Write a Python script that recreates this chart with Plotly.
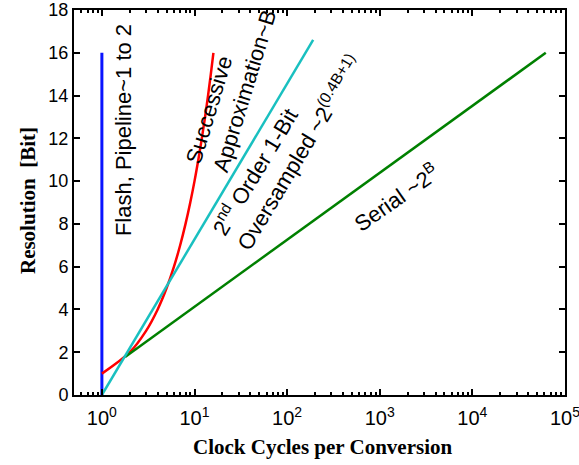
import plotly.graph_objects as go
import math

# Data (clock cycles per conversion vs resolution in bits)
flash_cycles = [1, 1]
flash_bits = [0, 16]

sar_cycles = [1, 2, 3, 4, 5, 6, 7, 8, 9, 10, 11, 12, 13, 14, 15, 16]
sar_bits = [1, 2, 3, 4, 5, 6, 7, 8, 9, 10, 11, 12, 13, 14, 15, 16]

osr_cycles = [1, 10, 100, 191]
osr_bits = [0, 7.3, 14.6, 16.6]

serial_cycles = [1.78, 10, 100, 1000, 10000, 62000]
serial_bits = [1.78, 4.13, 7.26, 10.39, 13.52, 16.0]

x_tick_vals = [1, 10, 100, 1000, 10000, 100000]
x_tick_text = ["10<sup>0</sup>", "10<sup>1</sup>", "10<sup>2</sup>",
               "10<sup>3</sup>", "10<sup>4</sup>", "10<sup>5</sup>"]
y_tick_vals = [0, 2, 4, 6, 8, 10, 12, 14, 16, 18]

minor_vals = [m * 10 ** d for d in range(-1, 5) for m in range(2, 10)]

fig = go.Figure()
fig.add_trace(go.Scatter(x=flash_cycles, y=flash_bits, mode="lines",
                         line=dict(color="#0a14ff", width=3), showlegend=False))
fig.add_trace(go.Scatter(x=sar_cycles, y=sar_bits, mode="lines", line_shape="spline",
                         line=dict(color="#ff0000", width=2.5), showlegend=False))
fig.add_trace(go.Scatter(x=serial_cycles, y=serial_bits, mode="lines",
                         line=dict(color="#008000", width=2.5), showlegend=False))
fig.add_trace(go.Scatter(x=osr_cycles, y=osr_bits, mode="lines",
                         line=dict(color="#19c0c0", width=2.5), showlegend=False))

tick_font = dict(family="Liberation Sans, Arial", size=18, color="black")
xtick_font = dict(family="Liberation Sans, Arial", size=20, color="black")
ann_font = dict(family="Liberation Sans, Arial", size=22, color="black")
title_font = dict(family="Liberation Serif, Times New Roman", size=21, color="black")

annotations = [
    dict(x=0.24, y=12.39, text="Flash, Pipeline~1 to 2", textangle=-90),
    dict(x=1.40, y=14.38, text="Successive<br>Approximation~B", textangle=-73, align="left"),
    dict(x=2.00, y=11.69, text="2<sup>nd</sup> Order 1-Bit<br>Oversampled ~2<sup>(0.4B+1)</sup>",
         textangle=-59, align="left"),
    dict(x=3.173, y=9.26, text="Serial ~2<sup>B</sup>", textangle=-35),
]
for a in annotations:
    a.update(xref="x", yref="y", showarrow=False, font=ann_font)

annotations.append(dict(xref="paper", yref="paper", x=0.507, y=-0.135, showarrow=False,
                        text="<b>Clock Cycles per Conversion</b>", font=title_font,
                        xanchor="center", yanchor="middle"))
annotations.append(dict(xref="paper", yref="paper", x=-0.094, y=0.506, showarrow=False,
                        text="<b>Resolution  [Bit]</b>", font=title_font, textangle=-90,
                        xanchor="center", yanchor="middle"))

fig.update_layout(
    width=579, height=465,
    margin=dict(l=74, r=14, t=10, b=70),
    paper_bgcolor="white", plot_bgcolor="white",
    annotations=annotations,
    xaxis=dict(
        type="log", range=[math.log10(0.5), 5], automargin=False,
        tickvals=x_tick_vals, ticktext=x_tick_text, ticklabeloverflow="allow",
        ticklabelstandoff=4,
        ticks="inside", ticklen=6, tickwidth=2, tickcolor="black",
        showline=True, linecolor="black", linewidth=2, mirror="ticks",
        showgrid=False, zeroline=False, tickfont=xtick_font,
        minor=dict(tickvals=minor_vals, ticks="inside", ticklen=3, tickwidth=1.5,
                   tickcolor="black", showgrid=False),
    ),
    yaxis=dict(
        range=[0, 18], tickvals=y_tick_vals, automargin=False, ticklabeloverflow="allow",
        ticks="inside", ticklen=6, tickwidth=2, tickcolor="black",
        showline=True, linecolor="black", linewidth=2, mirror="ticks",
        showgrid=False, zeroline=False, tickfont=tick_font,
    ),
)

fig.write_html("out.html", config={"displayModeBar": False},
               post_script="document.body.style.margin='0';document.body.style.overflow='hidden';")
